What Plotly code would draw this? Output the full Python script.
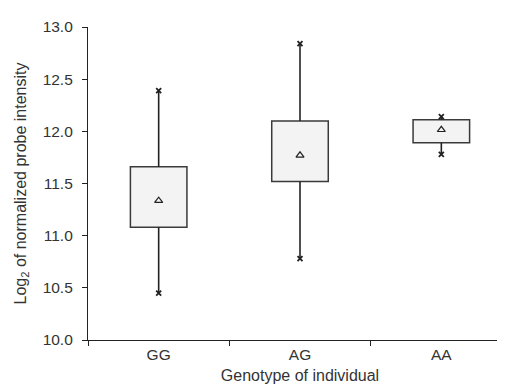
import plotly.graph_objects as go

categories = ["GG", "AG", "AA"]
q1 = [11.08, 11.52, 11.89]
q3 = [11.66, 12.10, 12.11]
lower = [10.45, 10.78, 11.78]
upper = [12.39, 12.84, 12.14]
means = [11.335, 11.77, 12.015]

fig = go.Figure()

# whiskers
wx, wy = [], []
for c, lo, a, b, hi in zip(categories, lower, q1, q3, upper):
    wx += [c, c, None, c, c, None]
    wy += [lo, a, None, b, hi, None]
fig.add_trace(go.Scatter(x=wx, y=wy, mode="lines", line=dict(color="#222", width=1.6),
                         showlegend=False, hoverinfo="skip"))

# boxes
fig.add_trace(go.Bar(
    x=categories, base=q1, y=[b - a for a, b in zip(q1, q3)], width=0.4,
    marker=dict(color="#f3f3f3", line=dict(color="#3a3a3a", width=1.5)),
    showlegend=False, hoverinfo="skip"
))
fig.add_trace(go.Scatter(
    x=categories + categories, y=lower + upper, mode="markers",
    marker=dict(symbol="x-thin", size=5, line=dict(color="#222", width=1.8)),
    showlegend=False
))
fig.add_trace(go.Scatter(
    x=categories, y=means, mode="markers",
    marker=dict(symbol="triangle-up-open", size=7, color="#222", line=dict(width=1.2)),
    showlegend=False
))

tickf = dict(family="Liberation Sans, Arial", size=15.5, color="#333")
titf = dict(family="Liberation Sans, Arial", size=16, color="#333")
fig.update_layout(
    width=505, height=384,
    margin=dict(l=80, r=1, t=19, b=52),
    paper_bgcolor="white", plot_bgcolor="white",
    font=tickf,
    xaxis=dict(
        type="category", range=[-0.5, 2.5], showline=True, linecolor="#222", linewidth=1.2,
        ticks="outside", tickson="boundaries", ticklen=5, tickcolor="#222",
        showgrid=False, zeroline=False, tickfont=tickf,
        title=dict(text="Genotype of individual", standoff=8, font=titf),
    ),
    yaxis=dict(
        range=[10, 13], dtick=0.5, tickformat=".1f", showline=True, linecolor="#222", linewidth=1.2,
        ticks="outside", ticklen=5, tickcolor="#222", showgrid=False, zeroline=False, tickfont=tickf,
        ticklabelstandoff=6,
        title=dict(text="Log<sub>2</sub> of normalized probe intensity", standoff=12, font=titf),
    ),
)
fig.write_html("out.html")
